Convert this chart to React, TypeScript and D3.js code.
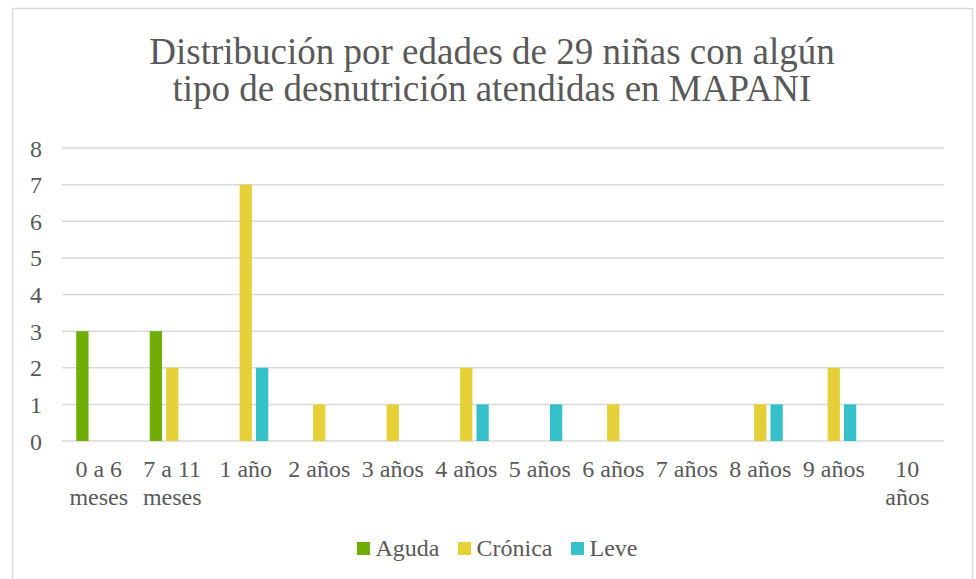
import React from "react";
import * as d3 from "d3";

const categories = ["0 a 6 meses", "7 a 11 meses", "1 año", "2 años", "3 años", "4 años", "5 años", "6 años", "7 años", "8 años", "9 años", "10 años"];
const categoryLines = [["0 a 6", "meses"], ["7 a 11", "meses"], ["1 año"], ["2 años"], ["3 años"], ["4 años"], ["5 años"], ["6 años"], ["7 años"], ["8 años"], ["9 años"], ["10", "años"]];
const seriesNames = ["Aguda", "Crónica", "Leve"];
const aguda = [3, 3, 0, 0, 0, 0, 0, 0, 0, 0, 0, 0];
const cronica = [0, 2, 7, 1, 1, 2, 0, 1, 0, 1, 2, 0];
const leve = [0, 0, 2, 0, 0, 1, 1, 0, 0, 1, 1, 0];
const yTicks = [0, 1, 2, 3, 4, 5, 6, 7, 8];
const colors = ["#70AD07", "#E5D037", "#36C0CA"];
const titleLines = ["Distribución por edades de 29 niñas con algún", "tipo de desnutrición atendidas en MAPANI"];

const W = 976, H = 579;
const left = 62, right = 944, top = 148, bottom = 441;
const font = "Liberation Serif, Times New Roman, DejaVu Serif, serif";
const textColor = "#595959";

export default function App() {
  const series = [aguda, cronica, leve];
  const x = d3.scaleBand<string>().domain(categories).range([left, right]).paddingInner(0).paddingOuter(0);
  const x1 = d3.scaleBand<string>().domain(seriesNames).range([0, 45]).paddingInner(0.25);
  const y = d3.scaleLinear().domain([0, 8]).range([bottom, top]);
  const groupW = 45;
  const ts = { fontFamily: font };
  return (
    <svg width={W} height={H} style={{ position: "absolute", left: 0, top: 0, background: "#fff", fontFamily: font }}>
      <rect x={12.5} y={8.5} width={960} height={600} fill="#fff" stroke="#d9d9d9" strokeWidth={1.5} />
      {titleLines.map((t, i) => (
        <text key={i} x={492} y={64 + i * 37} textAnchor="middle" fontSize={37} fill={textColor} style={ts}>{t}</text>
      ))}
      {yTicks.map((t) => (
        <g key={t}>
          <line x1={left} x2={right} y1={y(t)} y2={y(t)} stroke="#d9d9d9" strokeWidth={1.5} />
          <text x={42} y={y(t) + 8.5} textAnchor="end" fontSize={24} fill={textColor} style={ts}>{t}</text>
        </g>
      ))}
      {categories.map((c, i) => {
        const cx = (x(c) as number) + x.bandwidth() / 2;
        return (
          <g key={c}>
            {series.map((s, j) => s[i] > 0 ? (
              <rect key={j} x={cx - groupW / 2 + (x1(seriesNames[j]) as number)} y={y(s[i])} width={x1.bandwidth()} height={y(0) - y(s[i])} fill={colors[j]} />
            ) : null)}
            {categoryLines[i].map((l, k) => (
              <text key={k} x={cx} y={477 + k * 27.5} textAnchor="middle" fontSize={24} fill={textColor} style={ts}>{l}</text>
            ))}
          </g>
        );
      })}
      {(() => {
        const items = [{ x: 357, label: seriesNames[0] }, { x: 458, label: seriesNames[1] }, { x: 571, label: seriesNames[2] }];
        return items.map((it, j) => (
          <g key={j}>
            <rect x={it.x} y={542} width={13} height={13} fill={colors[j]} />
            <text x={it.x + 18.5} y={556} fontSize={24} fill={textColor} style={ts}>{it.label}</text>
          </g>
        ));
      })()}
    </svg>
  );
}
